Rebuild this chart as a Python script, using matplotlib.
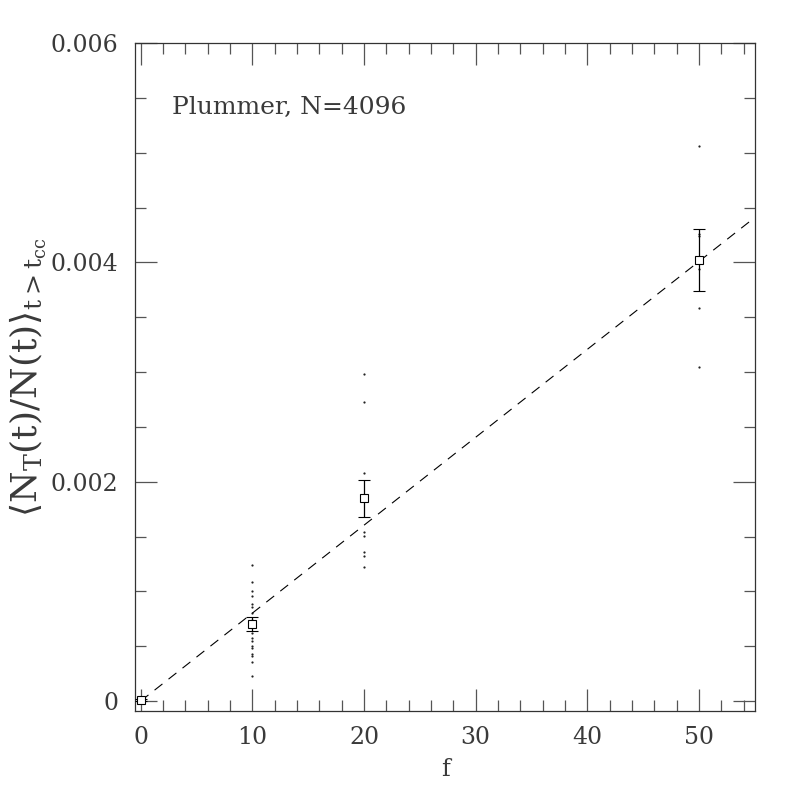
import numpy as np
import matplotlib
matplotlib.use("Agg")
import matplotlib.pyplot as plt
from matplotlib.ticker import MultipleLocator, FixedLocator

# individual runs (small dots)
f10_runs = [0.00124, 0.00109, 0.00100, 0.00096, 0.00089, 0.00086, 0.00080, 0.00074,
            0.00062, 0.00058, 0.00055, 0.00050, 0.00048, 0.00043, 0.00041, 0.00036, 0.00023]
f20_runs = [0.00298, 0.00273, 0.00208, 0.00154, 0.00151, 0.00136, 0.00132, 0.00122]
f50_runs = [0.00506, 0.00426, 0.00424, 0.00394, 0.00358, 0.00305]

# means with errors (open squares)
f_mean = [0, 10, 20, 50]
ratio_mean = [0.00001, 0.00070, 0.00185, 0.00402]
ratio_err = [0.00001, 0.000064, 0.00017, 0.00028]

# linear fit through origin
fit_slope = 8.02e-5
fit_range = [0, 55]

plt.rcParams['font.family'] = 'DejaVu Serif'
plt.rcParams['mathtext.fontset'] = 'dejavuserif'

fig = plt.figure(figsize=(7.97, 7.97), dpi=100)
ax = fig.add_axes([0.1694, 0.1079, 0.7779, 0.8381])

ink = '#3a3a3a'

for fx, runs in [(10, f10_runs), (20, f20_runs), (50, f50_runs)]:
    ax.plot([fx] * len(runs), runs, ls='none', marker='o', ms=1.6,
            mfc='#222222', mec='none')

ax.errorbar(f_mean, ratio_mean, yerr=ratio_err, fmt='s', ms=5.5, mfc='white',
            mec='black', mew=0.8, ecolor='black', elinewidth=0.9,
            capsize=4, capthick=0.9, zorder=3)

fx = np.array(fit_range, dtype=float)
ax.plot(fx, fit_slope * fx, ls=(0, (9, 7)), color='black', lw=0.8, zorder=2)

ax.set_xlim(-0.5, 55)
ax.set_ylim(-0.00009, 0.006)

ax.xaxis.set_major_locator(FixedLocator([0, 10, 20, 30, 40, 50]))
ax.xaxis.set_minor_locator(MultipleLocator(2))
ax.yaxis.set_major_locator(FixedLocator([0, 0.002, 0.004, 0.006]))
ax.yaxis.set_minor_locator(MultipleLocator(0.0005))
ax.set_yticklabels(['0', '0.002', '0.004', '0.006'])

ax.tick_params(which='both', direction='in', top=True, right=True,
               color='#555555', width=0.9, labelsize=17, labelcolor=ink)
ax.tick_params(which='major', length=16)
ax.tick_params(which='minor', length=8)
ax.tick_params(axis='y', pad=12)
ax.tick_params(axis='x', pad=11)

for s in ax.spines.values():
    s.set_color('#333333')
    s.set_linewidth(0.9)

ax.set_xlabel('f', fontsize=17, color=ink, labelpad=6)
ax.set_ylabel(r'$\left\langle \mathrm{N_T(t)/N(t)} \right\rangle_{\mathrm{t>t_{cc}}}$',
              fontsize=26, color=ink, labelpad=2)

ax.text(0.06, 0.903, 'Plummer, N=4096', transform=ax.transAxes,
        fontsize=18, color=ink, va='center', ha='left')

fig.savefig('out.png', dpi=100)
